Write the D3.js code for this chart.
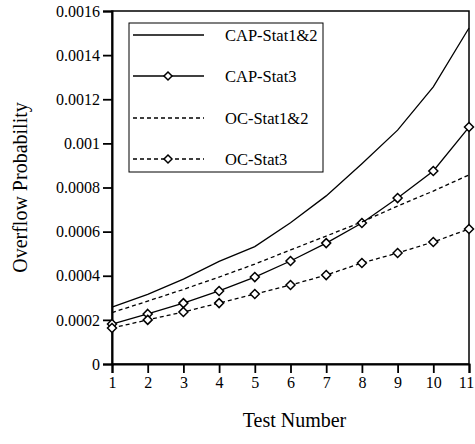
<!DOCTYPE html>
<html>
<head>
<meta charset="utf-8">
<script src="https://cdn.jsdelivr.net/npm/d3@7"></script>
<style>
  body { margin: 0; background: #fff; }
  svg { display: block; }
  text { font-family: "Liberation Serif", "Times New Roman", serif; fill: #000; }
</style>
</head>
<body>
<svg id="chart" width="475" height="444"></svg>
<script>
// data
const testNumbers = [1, 2, 3, 4, 5, 6, 7, 8, 9, 10, 11];
const capStat12 = [0.000258, 0.000316, 0.000385, 0.000465, 0.000532, 0.00064, 0.000762, 0.000908, 0.00106, 0.001256, 0.001523];
const capStat3  = [0.000181, 0.000227, 0.000276, 0.000331, 0.000394, 0.000467, 0.000548, 0.000639, 0.000752, 0.000875, 0.001074];
const ocStat12  = [0.000233, 0.000285, 0.000338, 0.000394, 0.000453, 0.000517, 0.00058, 0.000644, 0.000716, 0.000784, 0.000857];
const ocStat3   = [0.000163, 0.0002, 0.000236, 0.000276, 0.000317, 0.000358, 0.000403, 0.000458, 0.000503, 0.000553, 0.000612];
const seriesNames = ["CAP-Stat1&2", "CAP-Stat3", "OC-Stat1&2", "OC-Stat3"];
const yTicks = [0, 0.0002, 0.0004, 0.0006, 0.0008, 0.001, 0.0012, 0.0014, 0.0016];
const yTickLabels = ["0", "0.0002", "0.0004", "0.0006", "0.0008", "0.001", "0.0012", "0.0014", "0.0016"];

const series = [
  { name: seriesNames[0], values: capStat12, dashed: false, marker: false },
  { name: seriesNames[1], values: capStat3, dashed: false, marker: true },
  { name: seriesNames[2], values: ocStat12, dashed: true, marker: false },
  { name: seriesNames[3], values: ocStat3, dashed: true, marker: true }
];

const width = 475, height = 444;
const margin = { top: 11, right: 6, bottom: 80, left: 112 };

const svg = d3.select("#chart");

const x = d3.scaleLinear().domain([1, 11]).range([margin.left, width - margin.right]);
const y = d3.scaleLinear().domain([0, 0.0016]).range([height - margin.bottom, margin.top]);

// frame (top + right)
svg.append("rect")
  .attr("x", x(1)).attr("y", y(0.0016))
  .attr("width", x(11) - x(1)).attr("height", y(0) - y(0.0016))
  .attr("fill", "none").attr("stroke", "#000").attr("stroke-width", 1.5);

const xAxis = svg.append("g")
  .attr("transform", `translate(0,${y(0)})`)
  .call(d3.axisBottom(x).tickValues(testNumbers).tickSize(9).tickPadding(4).tickFormat(d3.format("d")));

const yAxis = svg.append("g")
  .attr("transform", `translate(${x(1)},0)`)
  .call(d3.axisLeft(y).tickValues(yTicks).tickSize(9).tickPadding(3)
    .tickFormat((d, i) => yTickLabels[i]));

[xAxis, yAxis].forEach(g => {
  g.select(".domain").attr("stroke-width", 2);
  g.selectAll(".tick line").attr("stroke-width", 1.8);
  g.selectAll("text")
    .style("font-family", '"Liberation Serif", "Times New Roman", serif')
    .style("font-size", "16px");
});
// keep the last x label inside the page
xAxis.selectAll(".tick text").filter(d => d === 11).attr("dx", -3);

// axis titles
svg.append("text")
  .attr("x", (x(1) + x(11)) / 2 + 4)
  .attr("y", 427)
  .attr("text-anchor", "middle")
  .style("font-size", "20px")
  .text("Test Number");

svg.append("text")
  .attr("transform", `translate(27,${(y(0) + y(0.0016)) / 2}) rotate(-90)`)
  .attr("text-anchor", "middle")
  .style("font-size", "20px")
  .text("Overflow Probability");

const line = d3.line()
  .x((d, i) => x(testNumbers[i]))
  .y(d => y(d));

const diamond = (cx, cy, r) =>
  `M${cx},${cy - r}L${cx + r},${cy}L${cx},${cy + r}L${cx - r},${cy}Z`;

series.forEach(s => {
  svg.append("path")
    .datum(s.values)
    .attr("d", line)
    .attr("fill", "none")
    .attr("stroke", "#000")
    .attr("stroke-width", 1.3)
    .attr("stroke-dasharray", s.dashed ? "4,3" : null);

  if (s.marker) {
    svg.append("g").selectAll("path")
      .data(s.values)
      .join("path")
      .attr("d", (d, i) => diamond(x(testNumbers[i]), y(d), 4.5))
      .attr("fill", "#fff")
      .attr("stroke", "#000")
      .attr("stroke-width", 1.5);
  }
});

// legend
const legend = svg.append("g");
legend.append("rect")
  .attr("x", 129).attr("y", 23)
  .attr("width", 194).attr("height", 149)
  .attr("fill", "#fff").attr("stroke", "#000").attr("stroke-width", 1);

const rowY = [35, 76, 118, 159];
series.forEach((s, i) => {
  const g = legend.append("g").attr("transform", `translate(0,${rowY[i]})`);
  g.append("line")
    .attr("x1", 133).attr("x2", 204).attr("y1", 0).attr("y2", 0)
    .attr("stroke", "#000").attr("stroke-width", 1.3)
    .attr("stroke-dasharray", s.dashed ? "4,3" : null);
  if (s.marker) {
    g.append("path")
      .attr("d", diamond(168, 0, 4))
      .attr("fill", "#fff").attr("stroke", "#000").attr("stroke-width", 1.5);
  }
  g.append("text")
    .attr("x", 225).attr("y", 6)
    .style("font-size", "16.5px")
    .text(s.name);
});
</script>
</body>
</html>
